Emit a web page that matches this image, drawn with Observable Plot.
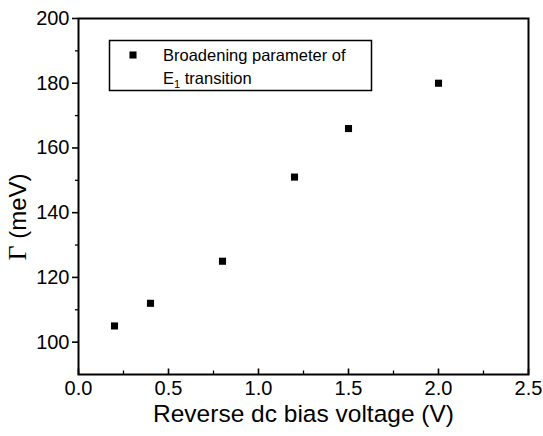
<!DOCTYPE html>
<html>
<head>
<meta charset="utf-8">
<script src="https://cdn.jsdelivr.net/npm/d3@7"></script>
<script src="https://cdn.jsdelivr.net/npm/@observablehq/plot@0.6"></script>
<style>
  html, body { margin: 0; padding: 0; background: #fff; }
  svg { display: block; }
</style>
</head>
<body>
<div id="chart"></div>
<script>
const voltage = [0.2, 0.4, 0.8, 1.2, 1.5, 2.0];
const gamma = [105, 112, 125, 151, 166, 180];
const xTicks = [0, 0.5, 1.0, 1.5, 2.0, 2.5];
const xMinor = [0.25, 0.75, 1.25, 1.75, 2.25];
const yTicks = [100, 120, 140, 160, 180, 200];
const yMinor = [110, 130, 150, 170, 190];
const xLabel = "Reverse dc bias voltage (V)";
const legendLine1 = "Broadening parameter of";
const legendLine2a = "E";
const legendLine2sub = "1";
const legendLine2b = " transition";

const data = voltage.map((v, i) => ({v, g: gamma[i]}));
const font = "Liberation Sans, Arial, sans-serif";

// inward x ticks (line segments drawn from the axis up into the frame)
const upTick = len => ({draw(ctx) { ctx.moveTo(0, 0); ctx.lineTo(0, -len); }});

const plot = Plot.plot({
  width: 543,
  height: 436,
  marginLeft: 78,
  marginRight: 15,
  marginTop: 18,
  marginBottom: 62,
  style: {fontFamily: font, color: "#000", background: "#fff"},
  x: {domain: [0, 2.5]},
  y: {domain: [90, 200]},
  marks: [
    Plot.dot(xTicks, {x: d => d, frameAnchor: "bottom", symbol: upTick(6), stroke: "#000", strokeWidth: 1.6, fill: "none"}),
    Plot.dot(xMinor, {x: d => d, frameAnchor: "bottom", symbol: upTick(4), stroke: "#000", strokeWidth: 1.3, fill: "none"}),
    Plot.axisY(yTicks, {anchor: "left", tickSize: 6, strokeWidth: 1.6, tickPadding: 3, fontSize: 20, label: null}),
    Plot.axisY(yMinor, {anchor: "left", tickSize: 3, strokeWidth: 1.3, tickFormat: () => "", label: null}),
    Plot.axisX(xTicks, {anchor: "bottom", tickSize: 0, tickPadding: 6, fontSize: 20, tickFormat: d3.format(".1f"), label: null}),
    Plot.frame({stroke: "#000", strokeWidth: 2}),
    Plot.dot(data, {x: "v", y: "g", symbol: "square", r: 4, fill: "#000", stroke: "none"}),
    Plot.text([xLabel], {frameAnchor: "bottom", dy: 47, fontSize: 24.5, text: d => d}),
    Plot.text(["Γ (meV)"], {frameAnchor: "left", textAnchor: "middle", rotate: -90, fontSize: 24, text: d => d, className: "ylab"})
  ]
});

document.getElementById("chart").appendChild(plot);

const svg = d3.select(plot);
// y label: serif Gamma as in the original, placed left of the axis
svg.selectAll(".ylab").attr("transform", null);
svg.selectAll(".ylab text").each(function() {
  const t = d3.select(this);
  t.text(null);
  t.attr("x", null).attr("y", null).attr("dy", "0.35em").attr("text-anchor", "middle")
   .attr("transform", "translate(18,217) rotate(-90)");
  t.append("tspan").attr("font-family", "Liberation Serif, Times New Roman, serif").attr("font-size", 26).text("Γ");
  t.append("tspan").text(" (meV)");
});

// legend
const lg = svg.append("g").attr("font-family", font).attr("font-size", 16.5).attr("text-anchor", "start");
lg.append("rect").attr("x", 109.5).attr("y", 40.5).attr("width", 262).attr("height", 50)
  .attr("fill", "#fff").attr("stroke", "#000").attr("stroke-width", 1.5);
lg.append("path").attr("d", d3.symbol(d3.symbolSquare, 50)()).attr("transform", "translate(133,55)").attr("fill", "#000");
lg.append("text").attr("x", 163).attr("y", 61).text(legendLine1);
const t2 = lg.append("text").attr("x", 163).attr("y", 84);
t2.append("tspan").text(legendLine2a);
t2.append("tspan").attr("font-size", 11).attr("dy", 4).text(legendLine2sub);
t2.append("tspan").attr("dy", -4).text(legendLine2b);
</script>
</body>
</html>
